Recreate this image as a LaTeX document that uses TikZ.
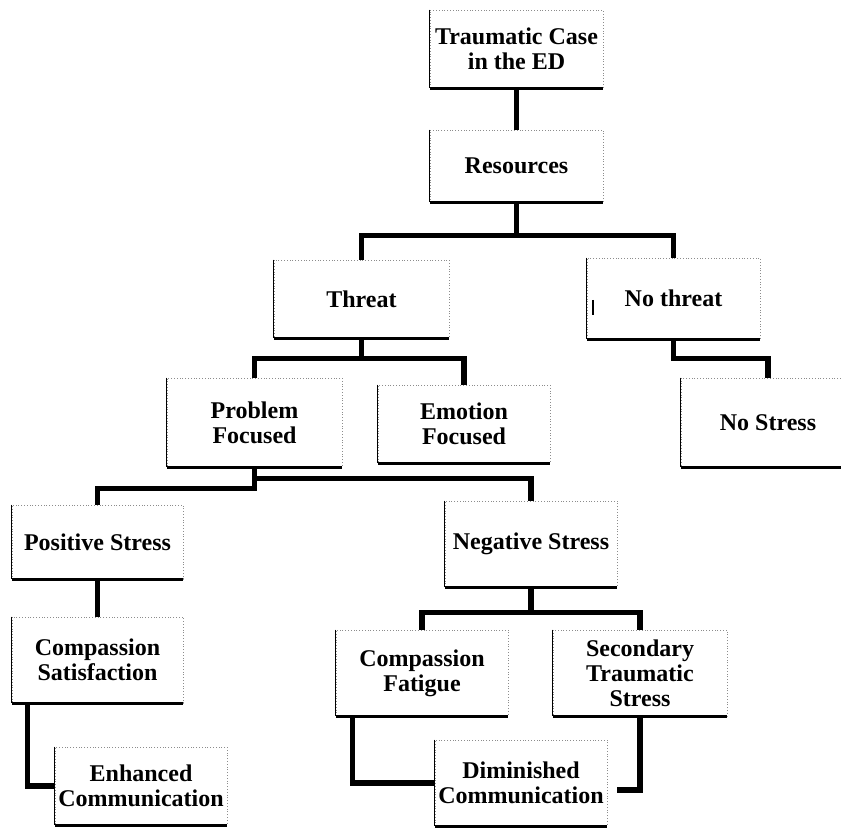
\documentclass[tikz,border=0pt]{standalone}
\usepackage{fontspec}
\setmainfont{Liberation Serif}
\usepackage{tikz}
\usetikzlibrary{positioning}

\tikzset{
  box/.style={draw=black!45, densely dotted, line width=0.4pt, inner sep=0pt,
    minimum width=86.5pt, minimum height=39pt, align=center,
    font=\fontsize{12}{12.5}\selectfont\bfseries},
  conn/.style={line width=2.6pt}
}

\begin{document}
\begin{tikzpicture}[x=0.5pt, y=-0.5pt]
        \useasboundingbox (0,0) rectangle (841,828);

        \node[box] (trauma) at (516.5, 49) {Traumatic Case\\in the ED};
        \node[box, minimum height=36pt] (resources) at (516.5, 166) {Resources};
        \node[box, minimum width=87.5pt] (threat) at (361.5, 299) {Threat};
        \node[box, minimum height=40.5pt] (nothreat) at (673.5, 298.5) {No threat};
        \node[box, minimum width=87.5pt, minimum height=44.5pt] (problem) at (254.5, 422.5) {Problem\\Focused};
        \node[box, minimum width=86pt] (emotion) at (464, 424) {Emotion\\Focused};
        \node[box, minimum width=87pt, minimum height=44.5pt] (nostress) at (768, 422.5) {No Stress};
        \node[box, minimum width=85.5pt, minimum height=37pt] (positive) at (97.5, 542) {Positive Stress};
        \node[box, minimum width=86pt, minimum height=43pt] (negative) at (531, 544) {Negative Stress};
        \node[box, minimum width=85.5pt, minimum height=43pt] (satisfaction) at (97.5, 660) {Compassion\\Satisfaction};
        \node[box, minimum width=86pt, minimum height=43pt] (fatigue) at (422, 673) {Compassion\\Fatigue};
        \node[box, minimum width=87pt, minimum height=43pt] (secondary) at (640, 673) {Secondary\\Traumatic\\Stress};
        \node[box, minimum width=86pt] (enhanced) at (141, 786) {Enhanced\\Communication};
        \node[box, minimum width=86pt, minimum height=43pt] (diminished) at (521, 783) {Diminished\\Communication};

        % left and bottom edges of the boxes
        \foreach \n in {trauma, resources, threat, nothreat, problem, emotion, nostress,
                        positive, negative, satisfaction, fatigue, secondary, enhanced, diminished} {
            \draw[line width=0.6pt] (\n.north west) -- (\n.south west);
            \draw[line width=1.3pt] (\n.south west) -- (\n.south east);
        }

        \coordinate (dimend) at (617, 790);

        \draw[conn] (trauma) -- (resources);
        \draw[conn] (resources.south) -- ++(0,33) -| (threat.north);
        \draw[conn] (resources.south) -- ++(0,33) -| (nothreat.north);
        \draw[conn] (threat.south) -- ++(0,20) -| (problem.north);
        \draw[conn] (threat.south) -- ++(0,20) -| (emotion.north);
        \draw[conn] (nothreat.south) -- ++(0,19) -| (nostress.north);
        \draw[conn] (problem.south) -- ++(0,21) -| (positive.north);
        \draw[conn] (problem.south) -- ++(0,11) -| (negative.north);
        \draw[conn] (positive) -- (satisfaction);
        \draw[conn] (negative.south) -- ++(0,25) -| (fatigue.north);
        \draw[conn] (negative.south) -- ++(0,25) -| (secondary.north);
        \draw[conn] ([xshift=8pt]satisfaction.south west) |- (enhanced.west);
        \draw[conn] ([xshift=8.5pt]fatigue.south west) |- (diminished.west);
        \draw[conn] (secondary.south) |- (dimend);

        \draw[line width=1.2pt] (593,300) -- (593,315);
    \end{tikzpicture}
\end{document}
